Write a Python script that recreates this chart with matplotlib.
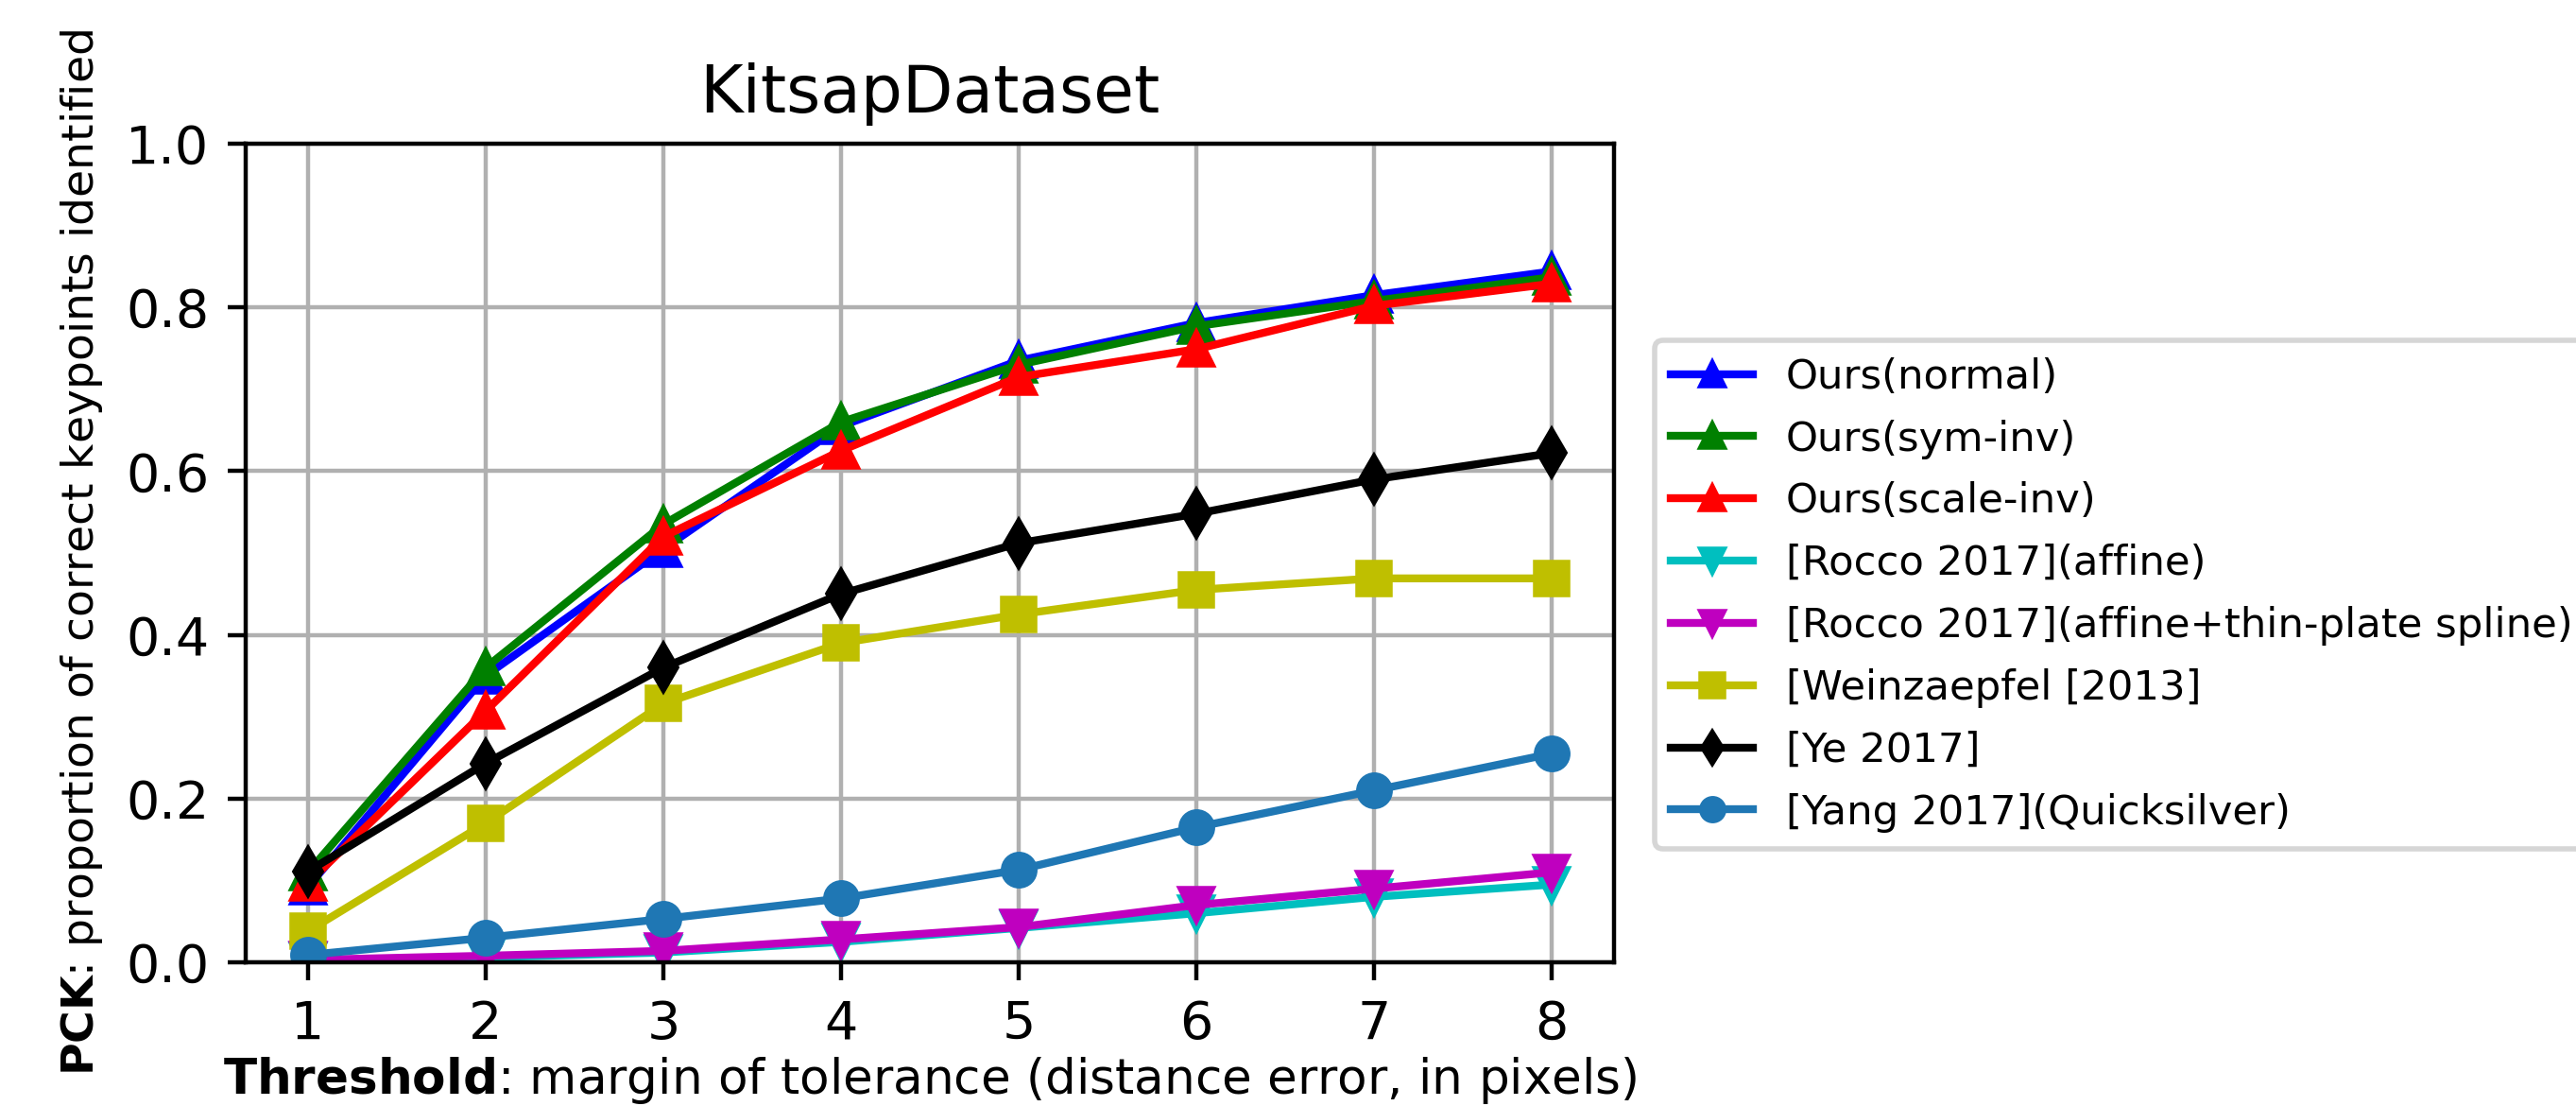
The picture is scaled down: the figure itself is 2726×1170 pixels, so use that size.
import matplotlib
matplotlib.use("Agg")
import matplotlib.pyplot as plt

#threshold values (pixels)
thresholds = [1, 2, 3, 4, 5, 6, 7, 8]

#PCK values read per method
ours_normal = [0.092, 0.350, 0.505, 0.655, 0.735, 0.781, 0.815, 0.844]
ours_sym_inv = [0.110, 0.360, 0.535, 0.660, 0.730, 0.777, 0.808, 0.837]
ours_scale_inv = [0.097, 0.307, 0.520, 0.625, 0.715, 0.749, 0.802, 0.829]
rocco_affine = [0.002, 0.006, 0.012, 0.025, 0.042, 0.060, 0.080, 0.095]
rocco_tps = [0.003, 0.008, 0.014, 0.028, 0.043, 0.070, 0.090, 0.110]
weinzaepfel = [0.038, 0.170, 0.316, 0.390, 0.425, 0.455, 0.469, 0.469]
ye = [0.111, 0.243, 0.360, 0.450, 0.512, 0.548, 0.590, 0.622]
yang = [0.009, 0.030, 0.053, 0.078, 0.113, 0.165, 0.210, 0.255]

labels = ["Ours(normal)", "Ours(sym-inv)", "Ours(scale-inv)",
          "[Rocco 2017](affine)", "[Rocco 2017](affine+thin-plate spline)",
          "[Weinzaepfel [2013]", "[Ye 2017]", "[Yang 2017](Quicksilver)"]
series = [ours_normal, ours_sym_inv, ours_scale_inv, rocco_affine,
          rocco_tps, weinzaepfel, ye, yang]
styles = ["b^-", "g^-", "r^-", "cv-", "mv-", "ys-", "kd-", "o-"]


def main():
    fig = plt.figure(figsize=(6.815, 2.925), dpi=400)
    ax = fig.add_axes([0.0954, 0.1299, 0.5312, 0.7402])
    for vals, style, label in zip(series, styles, labels):
        if style == "o-":
            ax.plot(thresholds, vals, style, color="#1f77b4", label=label)
        else:
            ax.plot(thresholds, vals, style, label=label)
    ax.set_ylim(0, 1.0)
    ax.set_xticks(thresholds)
    ax.grid(True)
    ax.set_title("KitsapDataset", fontsize=12.5)
    ax.set_xlabel(r"$\bf{Threshold}$: margin of tolerance (distance error, in pixels)",
                  fontsize=9.3, labelpad=1)
    ax.set_ylabel(r"$\bf{PCK}$: proportion of correct keypoints identified", fontsize=8.5)
    ax.legend(loc="upper left", bbox_to_anchor=(0.6423, 0.692),
              bbox_transform=fig.transFigure, borderaxespad=0,
              fontsize=7.8, markerscale=0.7, labelspacing=0.55)
    fig.savefig("out.png", dpi=400)


if __name__ == "__main__":
    main()
